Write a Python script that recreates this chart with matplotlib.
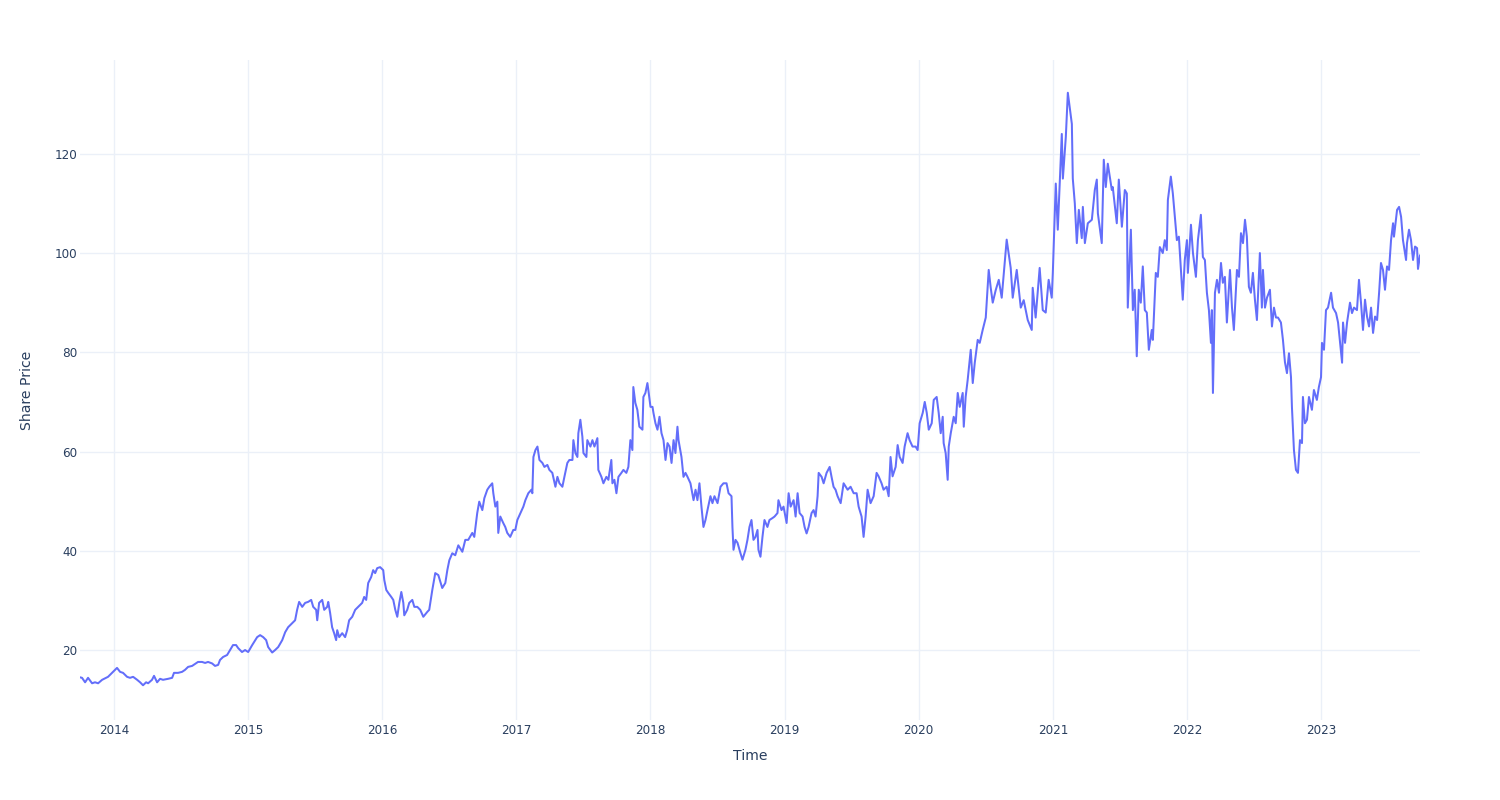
import matplotlib

matplotlib.use("Agg")

import matplotlib.pyplot as plt  # noqa: E402

# Time axis in decimal years, price values.
time_dec = [
    2013.746, 2013.761, 2013.784, 2013.806, 2013.836, 2013.858, 2013.881, 2013.911, 2013.940, 2013.955, 2013.985,
    # 2014
    2014.007, 2014.022, 2014.045, 2014.067, 2014.097, 2014.119, 2014.142, 2014.172, 2014.194, 2014.216,
    2014.239, 2014.254, 2014.283, 2014.298, 2014.321, 2014.343, 2014.365, 2014.403, 2014.433, 2014.447,
    2014.477, 2014.507, 2014.529, 2014.552, 2014.582, 2014.604, 2014.626, 2014.656, 2014.679, 2014.701,
    2014.731, 2014.753, 2014.776, 2014.790, 2014.813, 2014.843, 2014.865, 2014.887, 2014.910, 2014.925,
    2014.954, 2014.977,
    # 2015
    2015.000, 2015.030, 2015.067, 2015.089, 2015.112, 2015.134, 2015.149, 2015.179, 2015.201, 2015.224,
    2015.254, 2015.276, 2015.298, 2015.328, 2015.350, 2015.365, 2015.380, 2015.403, 2015.425, 2015.447,
    2015.470, 2015.485, 2015.507, 2015.515, 2015.529, 2015.552, 2015.567, 2015.589, 2015.597, 2015.611,
    2015.626, 2015.641, 2015.656, 2015.664, 2015.679, 2015.701, 2015.723, 2015.738, 2015.753, 2015.776,
    2015.798, 2015.820, 2015.850, 2015.865, 2015.880, 2015.895, 2015.917, 2015.932, 2015.947, 2015.962,
    2015.984,
    # 2016
    2016.007, 2016.015, 2016.030, 2016.045, 2016.067, 2016.082, 2016.097, 2016.112, 2016.127, 2016.142,
    2016.157, 2016.164, 2016.186, 2016.201, 2016.224, 2016.239, 2016.261, 2016.283, 2016.306, 2016.336,
    2016.350, 2016.373, 2016.395, 2016.418, 2016.447, 2016.470, 2016.485, 2016.500, 2016.522, 2016.544,
    2016.567, 2016.597, 2016.619, 2016.641, 2016.671, 2016.686, 2016.708, 2016.723, 2016.746, 2016.761,
    2016.783, 2016.798, 2016.820, 2016.828, 2016.843, 2016.858, 2016.865, 2016.880, 2016.902, 2016.917,
    2016.932, 2016.954, 2016.977, 2016.992,
    # 2017
    2017.007, 2017.030, 2017.052, 2017.067, 2017.089, 2017.112, 2017.119, 2017.127, 2017.142, 2017.157,
    2017.172, 2017.194, 2017.209, 2017.231, 2017.246, 2017.268, 2017.291, 2017.306, 2017.321, 2017.343,
    2017.358, 2017.380, 2017.395, 2017.418, 2017.425, 2017.440, 2017.455, 2017.462, 2017.477, 2017.492,
    2017.500, 2017.522, 2017.529, 2017.552, 2017.567, 2017.582, 2017.604, 2017.611, 2017.634, 2017.649,
    2017.671, 2017.686, 2017.708, 2017.716, 2017.731, 2017.746, 2017.761, 2017.783, 2017.798, 2017.820,
    2017.835, 2017.850, 2017.865, 2017.872, 2017.887, 2017.902, 2017.917, 2017.940, 2017.947, 2017.962,
    2017.977, 2017.984,
    # 2018
    2018.000, 2018.015, 2018.022, 2018.037, 2018.052, 2018.067, 2018.082, 2018.097, 2018.112, 2018.127,
    2018.142, 2018.157, 2018.172, 2018.186, 2018.201, 2018.209, 2018.231, 2018.246, 2018.261, 2018.276,
    2018.298, 2018.321, 2018.336, 2018.350, 2018.365, 2018.380, 2018.395, 2018.410, 2018.425, 2018.447,
    2018.462, 2018.477, 2018.500, 2018.522, 2018.544, 2018.567, 2018.582, 2018.604, 2018.611, 2018.619,
    2018.634, 2018.649, 2018.671, 2018.686, 2018.708, 2018.723, 2018.738, 2018.753, 2018.768, 2018.783,
    2018.798, 2018.805, 2018.820, 2018.835, 2018.850, 2018.872, 2018.887, 2018.910, 2018.925, 2018.947,
    2018.954, 2018.977, 2018.992,
    # 2019
    2019.015, 2019.030, 2019.045, 2019.067, 2019.082, 2019.097, 2019.112, 2019.134, 2019.149, 2019.164,
    2019.179, 2019.201, 2019.216, 2019.231, 2019.246, 2019.254, 2019.276, 2019.291, 2019.313, 2019.336,
    2019.350, 2019.365, 2019.380, 2019.395, 2019.418, 2019.440, 2019.470, 2019.492, 2019.515, 2019.537,
    2019.552, 2019.574, 2019.589, 2019.604, 2019.619, 2019.641, 2019.664, 2019.686, 2019.701, 2019.723,
    2019.738, 2019.761, 2019.776, 2019.790, 2019.805, 2019.828, 2019.843, 2019.858, 2019.880, 2019.895,
    2019.917, 2019.932, 2019.954, 2019.977, 2019.992,
    # 2020
    2020.007, 2020.030, 2020.045, 2020.060, 2020.075, 2020.097, 2020.112, 2020.134, 2020.149, 2020.164,
    2020.179, 2020.186, 2020.201, 2020.216, 2020.224, 2020.239, 2020.261, 2020.276, 2020.291, 2020.306,
    2020.328, 2020.336, 2020.350, 2020.365, 2020.388, 2020.403, 2020.418, 2020.440, 2020.455, 2020.477,
    2020.500, 2020.522, 2020.537, 2020.552, 2020.574, 2020.597, 2020.619, 2020.656, 2020.686, 2020.701,
    2020.731, 2020.761, 2020.783, 2020.813, 2020.843, 2020.850, 2020.872, 2020.902, 2020.925, 2020.947,
    2020.969, 2020.992,
    # 2021
    2021.000, 2021.022, 2021.037, 2021.067, 2021.075, 2021.097, 2021.112, 2021.142, 2021.149, 2021.164,
    2021.179, 2021.194, 2021.216, 2021.224, 2021.239, 2021.261, 2021.291, 2021.313, 2021.328, 2021.336,
    2021.365, 2021.380, 2021.395, 2021.410, 2021.440, 2021.447, 2021.477, 2021.492, 2021.515, 2021.537,
    2021.552, 2021.559, 2021.582, 2021.597, 2021.611, 2021.626, 2021.641, 2021.656, 2021.671, 2021.686,
    2021.701, 2021.716, 2021.738, 2021.746, 2021.768, 2021.783, 2021.798, 2021.820, 2021.835, 2021.850,
    2021.858, 2021.880, 2021.895, 2021.910, 2021.925, 2021.940, 2021.969, 2021.984,
    # 2022
    2022.000, 2022.007, 2022.030, 2022.045, 2022.067, 2022.082, 2022.104, 2022.119, 2022.134, 2022.149,
    2022.164, 2022.179, 2022.186, 2022.194, 2022.209, 2022.224, 2022.239, 2022.254, 2022.268, 2022.283,
    2022.298, 2022.321, 2022.336, 2022.350, 2022.373, 2022.388, 2022.403, 2022.418, 2022.433, 2022.447,
    2022.462, 2022.477, 2022.492, 2022.507, 2022.522, 2022.544, 2022.559, 2022.567, 2022.582, 2022.597,
    2022.619, 2022.634, 2022.649, 2022.664, 2022.679, 2022.701, 2022.716, 2022.731, 2022.746, 2022.761,
    2022.776, 2022.783, 2022.798, 2022.813, 2022.828, 2022.843, 2022.858, 2022.865, 2022.880, 2022.895,
    2022.910, 2022.932, 2022.947, 2022.969, 2022.984,
    # 2023
    2023.000, 2023.007, 2023.022, 2023.037, 2023.052, 2023.075, 2023.089, 2023.112, 2023.127, 2023.142,
    2023.157, 2023.164, 2023.179, 2023.194, 2023.216, 2023.231, 2023.246, 2023.268, 2023.283, 2023.298,
    2023.313, 2023.328, 2023.343, 2023.358, 2023.373, 2023.388, 2023.403, 2023.418, 2023.433, 2023.447,
    2023.462, 2023.477, 2023.492, 2023.507, 2023.522, 2023.537, 2023.544, 2023.567, 2023.582, 2023.597,
    2023.611, 2023.634, 2023.641, 2023.656, 2023.671, 2023.686, 2023.701, 2023.716, 2023.723, 2023.738,
]

share_price = [
    14.5, 14.4, 13.5, 14.4, 13.3, 13.5, 13.3, 14.0, 14.4, 14.6, 15.4,
    # 2014
    16.0, 16.4, 15.6, 15.4, 14.6, 14.4, 14.6, 14.0, 13.5, 12.9,
    13.5, 13.3, 14.0, 14.8, 13.5, 14.2, 14.0, 14.2, 14.4, 15.4,
    15.4, 15.6, 16.0, 16.6, 16.8, 17.2, 17.6, 17.6, 17.4, 17.6,
    17.3, 16.8, 17.0, 18.0, 18.6, 19.0, 20.0, 21.0, 21.0, 20.4,
    19.6, 20.0,
    # 2015
    19.6, 21.0, 22.6, 23.0, 22.6, 22.0, 20.6, 19.5, 20.0, 20.6,
    22.0, 23.6, 24.6, 25.4, 26.0, 28.1, 29.7, 28.7, 29.5, 29.7,
    30.1, 28.7, 28.1, 26.0, 29.5, 30.1, 28.1, 28.7, 29.7, 27.5,
    24.6, 23.4, 22.0, 24.0, 22.6, 23.4, 22.6, 24.0, 26.0, 26.7,
    28.1, 28.7, 29.5, 30.7, 30.1, 33.5, 34.7, 36.1, 35.5, 36.5,
    36.7,
    # 2016
    36.1, 34.1, 32.1, 31.5, 30.7, 30.1, 28.1, 26.7, 29.5, 31.7,
    29.5, 27.0, 28.1, 29.5, 30.1, 28.7, 28.7, 28.1, 26.7, 27.7,
    28.1, 32.1, 35.5, 35.1, 32.5, 33.5, 36.1, 38.1, 39.5, 39.1,
    41.1, 39.8, 42.2, 42.2, 43.6, 42.8, 47.6, 49.9, 48.2, 50.6,
    52.3, 52.9, 53.6, 51.6, 48.9, 49.9, 43.6, 46.9, 45.6, 44.8,
    43.6, 42.8, 44.2, 44.2,
    # 2017
    46.2, 47.6, 48.9, 50.2, 51.6, 52.3, 51.6, 58.9, 60.3, 61.0,
    58.3, 57.7, 56.9, 57.3, 56.3, 55.7, 52.9, 54.9, 53.6, 52.9,
    54.9, 57.7, 58.3, 58.3, 62.3, 59.7, 58.9, 63.7, 66.4, 63.0,
    59.7, 58.9, 62.3, 61.0, 62.3, 61.0, 62.7, 56.3, 54.9, 53.6,
    54.9, 54.3, 58.3, 53.6, 54.3, 51.6, 54.9, 55.7, 56.3, 55.7,
    56.9, 62.3, 60.3, 73.0, 69.8, 68.4, 65.0, 64.4, 71.0, 71.8,
    73.8, 72.4,
    # 2018
    69.0, 69.0, 67.8, 65.7, 64.4, 67.0, 63.7, 62.3, 58.3, 61.7,
    61.0, 57.7, 62.3, 59.7, 65.0, 62.3, 58.9, 54.9, 55.7, 54.9,
    53.6, 50.2, 52.3, 50.2, 53.6, 48.9, 44.8, 46.2, 48.2, 51.0,
    49.6, 51.0, 49.6, 52.9, 53.6, 53.6, 51.6, 51.0, 44.8, 40.2,
    42.2, 41.6, 39.5, 38.2, 40.2, 42.2, 44.8, 46.2, 42.2, 42.8,
    44.2, 40.2, 38.8, 42.8, 46.2, 44.8, 46.2, 46.6, 46.9, 47.6,
    50.2, 48.2, 48.9,
    # 2019
    45.6, 51.6, 48.9, 50.2, 46.9, 51.6, 47.6, 46.9, 44.8, 43.5,
    44.8, 47.6, 48.2, 46.9, 51.0, 55.7, 54.9, 53.6, 55.7, 56.9,
    54.9, 52.9, 52.3, 51.0, 49.6, 53.6, 52.3, 52.9, 51.6, 51.6,
    48.9, 46.9, 42.8, 46.9, 52.3, 49.6, 51.0, 55.7, 55.0, 53.6,
    52.3, 52.9, 51.0, 58.9, 55.0, 56.9, 61.3, 58.9, 57.7, 61.0,
    63.7, 62.3, 61.0, 61.0, 60.3,
    # 2020
    65.7, 67.8, 70.0, 67.8, 64.4, 65.7, 70.4, 71.0, 67.8, 63.7,
    67.0, 61.7, 59.7, 54.3, 61.0, 63.7, 67.0, 65.7, 71.8, 69.0,
    71.8, 65.0, 71.0, 74.4, 80.5, 73.8, 77.9, 82.5, 81.9, 84.5,
    87.0, 96.6, 93.0, 90.0, 92.5, 94.6, 91.0, 102.7, 97.0, 91.0,
    96.6, 89.0, 90.5, 86.5, 84.5, 93.0, 87.0, 97.0, 88.5, 88.0,
    94.6, 91.0,
    # 2021
    96.0, 114.0, 104.7, 124.0, 115.0, 123.4, 132.3, 126.0, 115.0, 110.0,
    102.0, 108.7, 103.0, 109.3, 102.0, 106.0, 106.7, 112.7, 114.8, 108.0,
    102.0, 118.8, 113.3, 118.0, 112.7, 113.3, 106.0, 114.8, 105.3, 112.7,
    112.0, 89.0, 104.7, 88.5, 92.6, 79.2, 92.6, 90.0, 97.3, 88.5,
    88.0, 80.5, 84.5, 82.5, 96.0, 95.2, 101.2, 100.0, 102.6, 100.6,
    110.7, 115.4, 112.0, 107.3, 102.6, 103.3, 90.6, 98.6,
    # 2022
    102.6, 96.0, 105.7, 100.0, 95.2, 102.6, 107.7, 99.2, 98.6, 92.0,
    88.5, 81.9, 88.5, 71.8, 92.0, 94.6, 92.0, 98.0, 94.0, 95.2,
    86.0, 96.6, 89.0, 84.5, 96.6, 95.2, 104.0, 102.0, 106.7, 103.3,
    93.2, 92.0, 96.0, 90.6, 86.5, 100.0, 89.0, 96.6, 89.0, 91.0,
    92.6, 85.2, 89.0, 87.0, 87.0, 86.0, 82.5, 78.0, 75.8, 79.8,
    75.0, 69.0, 60.3, 56.3, 55.7, 62.3, 61.7, 71.0, 65.7, 66.4,
    71.0, 68.4, 72.4, 70.4, 73.0,
    # 2023
    75.0, 81.9, 80.5, 88.5, 89.0, 92.0, 89.0, 87.9, 86.0, 81.9,
    77.9, 86.0, 81.9, 86.0, 90.0, 87.9, 89.0, 88.5, 94.6, 90.0,
    84.5, 90.6, 87.2, 85.2, 89.0, 83.9, 87.2, 86.5, 92.0, 98.0,
    96.6, 92.6, 97.3, 96.6, 102.6, 106.0, 103.3, 108.7, 109.3, 107.3,
    102.6, 98.6, 102.0, 104.7, 102.6, 98.6, 101.3, 101.0, 96.8, 99.5,
]

year_ticks = list(range(2014, 2024))
price_ticks = [20, 40, 60, 80, 100, 120]

LINE_COLOR = "#636efa"
GRID_COLOR = "#ebf0f8"
TEXT_COLOR = "#2a3f5f"

plt.rcParams["font.family"] = ["DejaVu Sans"]

fig = plt.figure(figsize=(15, 8), dpi=100)
ax = fig.add_axes([80 / 1500, 80 / 800, 1340 / 1500, 660 / 800])

ax.plot(time_dec, share_price, color=LINE_COLOR, linewidth=1.45, solid_joinstyle="round")

ax.set_xlim(time_dec[0], time_dec[-1])
ax.set_ylim(5.9, 138.9)

ax.set_xticks(year_ticks)
ax.set_xticklabels([str(y) for y in year_ticks])
ax.set_yticks(price_ticks)
ax.set_yticklabels([str(p) for p in price_ticks])

ax.grid(True, color=GRID_COLOR, linewidth=1.0)
ax.set_axisbelow(True)
for spine in ax.spines.values():
    spine.set_visible(False)
ax.tick_params(axis="both", length=0, labelsize=8.64, labelcolor=TEXT_COLOR)
ax.tick_params(axis="x", pad=3)
ax.tick_params(axis="y", pad=2)

fig.text(750 / 1500, 1 - 756 / 800, "Time", ha="center", va="center",
         fontsize=10.08, color=TEXT_COLOR)
fig.text(27 / 1500, 1 - 390 / 800, "Share Price", ha="center", va="center",
         rotation=90, fontsize=10.08, color=TEXT_COLOR)

fig.savefig("out.png", dpi=100, facecolor="white")
plt.close(fig)
